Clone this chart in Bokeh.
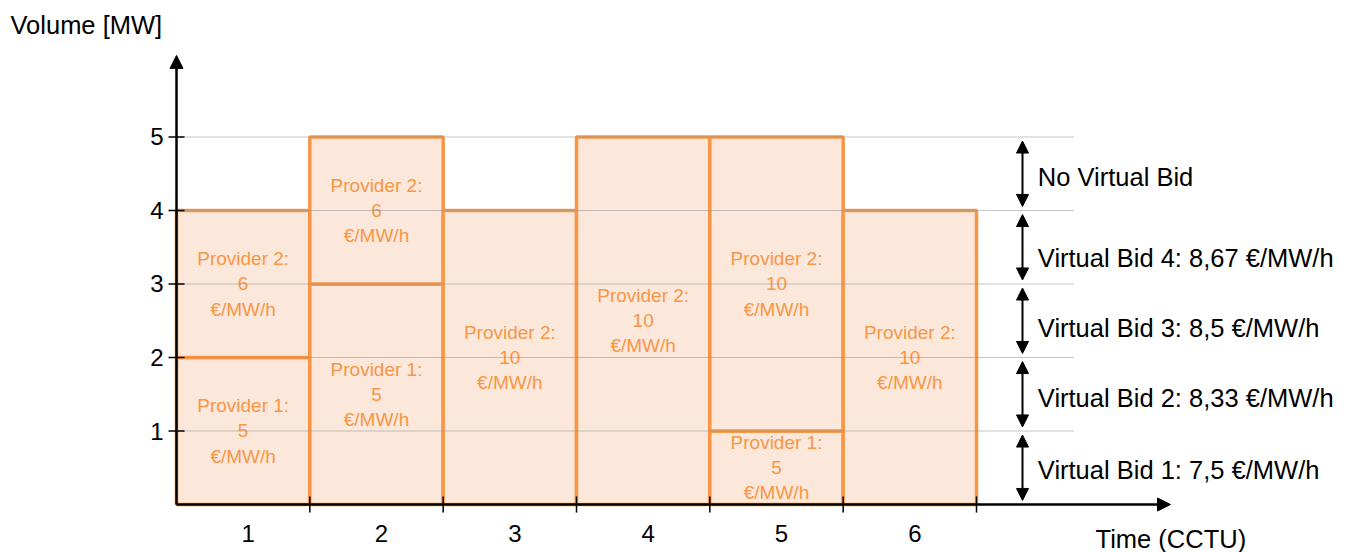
from bokeh.plotting import figure
from bokeh.models import Range1d, Arrow, NormalHead, ColumnDataSource
from bokeh.core.properties import value
from bokeh.embed import file_html
from bokeh.resources import INLINE

# ---- data ----
block_cctu = [1, 1, 2, 2, 3, 4, 5, 5, 6]
block_provider = ["Provider 1", "Provider 2", "Provider 1", "Provider 2", "Provider 2",
                  "Provider 2", "Provider 1", "Provider 2", "Provider 2"]
block_bottom = [0, 2, 0, 3, 0, 0, 0, 1, 0]
block_top = [2, 4, 3, 5, 4, 5, 1, 5, 4]
block_price = [5, 6, 5, 6, 10, 10, 5, 10, 10]
price_unit = "€/MW/h"

x_tick_labels = ["1", "2", "3", "4", "5", "6"]
y_ticks = [1, 2, 3, 4, 5]

band_bottom = [0, 1, 2, 3, 4]
band_top = [1, 2, 3, 4, 5]
band_labels = ["Virtual Bid 1: 7,5 €/MW/h", "Virtual Bid 2: 8,33 €/MW/h",
               "Virtual Bid 3: 8,5 €/MW/h", "Virtual Bid 4: 8,67 €/MW/h",
               "No Virtual Bid"]

y_title = "Volume [MW]"
x_title = "Time (CCTU)"

FONT = value("Liberation Sans")
ORANGE = "#F79646"
FILL = "#FCE8DA"

W, H = 1354, 552
p = figure(width=W, height=H, output_backend="svg", toolbar_location=None,
           x_range=Range1d(-1.32, 8.835), y_range=Range1d(-0.653, 6.857),
           min_border=0, outline_line_color=None)
p.axis.visible = False
p.grid.visible = False
p.background_fill_color = "white"
p.border_fill_color = "white"

# bars
src = ColumnDataSource(dict(
    left=[c - 1 for c in block_cctu],
    right=block_cctu,
    bottom=block_bottom,
    top=block_top,
    xc=[c - 0.5 for c in block_cctu],
    yc=[(b + t) / 2 for b, t in zip(block_bottom, block_top)],
    label=[f"{pr}:\n{v}\n{price_unit}" for pr, v in zip(block_provider, block_price)],
))
p.quad(left="left", right="right", bottom="bottom", top="top", source=src,
       fill_color=FILL, line_color=ORANGE, line_width=3.5)
p.text(x="xc", y="yc", text="label", source=src, text_align="center",
       text_baseline="middle", text_font=FONT, text_font_size="19px",
       text_color=ORANGE, text_line_height=1.2)

# gridlines (dotted, on top)
grid_end = 6.727
p.segment(x0=[0] * len(y_ticks), x1=[grid_end] * len(y_ticks), y0=y_ticks, y1=y_ticks,
          line_color="#8c8c8c", line_width=1, line_dash="1 1")

# axes
p.add_layout(Arrow(end=NormalHead(size=13, fill_color="black", line_color="black"),
                   x_start=0, y_start=0, x_end=0, y_end=6.11,
                   line_width=2.5, line_color="black"))
p.add_layout(Arrow(end=NormalHead(size=13, fill_color="black", line_color="black"),
                   x_start=0, y_start=0, x_end=7.455, y_end=0,
                   line_width=2.5, line_color="black"))

# y ticks + labels
p.segment(x0=[-0.06] * len(y_ticks), x1=[0.06] * len(y_ticks), y0=y_ticks, y1=y_ticks,
          line_color="black", line_width=1.5)
p.text(x=[0] * len(y_ticks), y=y_ticks, text=[str(t) for t in y_ticks],
       x_offset=-13, text_align="right", text_baseline="middle",
       text_font=FONT, text_font_size="24px", text_color="black")

# x ticks at boundaries + labels at centers
bounds = list(range(1, len(x_tick_labels) + 1))
p.segment(x0=bounds, x1=bounds, y0=[-0.11] * len(bounds), y1=[0.11] * len(bounds),
          line_color="black", line_width=1.5)
p.text(x=[i + 0.5 for i in range(len(x_tick_labels))], y=[-0.4] * len(x_tick_labels),
       text=x_tick_labels, x_offset=5, text_align="center", text_baseline="middle",
       text_font=FONT, text_font_size="24px", text_color="black")

# band annotations
gap = 0.055
arr_x = 6.345
band_src = ColumnDataSource(dict(
    x0=[arr_x] * len(band_bottom), x1=[arr_x] * len(band_bottom),
    y0=[b + gap for b in band_bottom], y1=[t - gap for t in band_top],
))
p.add_layout(Arrow(start=NormalHead(size=12, fill_color="black", line_color="black"),
                   end=NormalHead(size=12, fill_color="black", line_color="black"),
                   x_start="x0", y_start="y0", x_end="x1", y_end="y1", source=band_src,
                   line_width=2, line_color="black"))
label_src = ColumnDataSource(dict(
    x=[6.46] * len(band_labels),
    y=[(b + t) / 2 for b, t in zip(band_bottom, band_top)],
    text=band_labels,
    dy=[2, 4, 7, 11, 3],
))
p.text(x="x", y="y", text="text", y_offset="dy", source=label_src,
       text_align="left", text_baseline="middle",
       text_font=FONT, text_font_size="25.5px", text_color="black")

# titles
p.text(x=[-1.245], y=[6.52], text=[y_title], text_align="left", text_baseline="middle",
       text_font=FONT, text_font_size="25.5px", text_color="black")
p.text(x=[6.893], y=[-0.47], text=[x_title], text_align="left", text_baseline="middle",
       text_font=FONT, text_font_size="25.5px", text_color="black")

open("out.html", "w").write(file_html(p, INLINE))
